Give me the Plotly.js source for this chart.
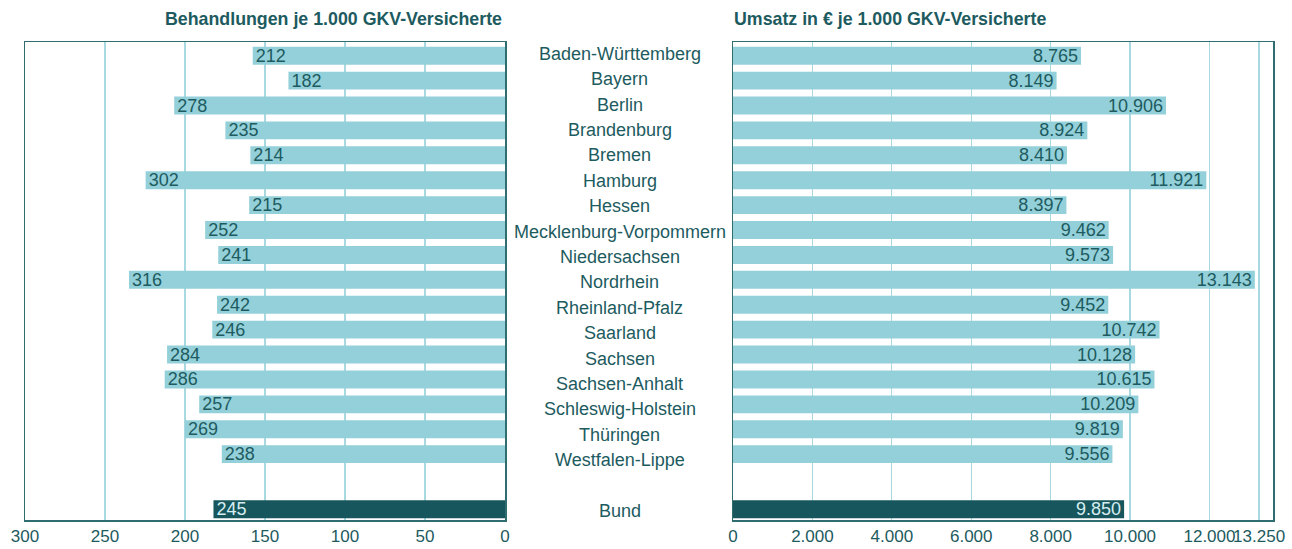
<!DOCTYPE html>
<html>
<head>
<meta charset="utf-8">
<script src="https://cdn.plot.ly/plotly-3.0.1.min.js"></script>
<style>html,body{margin:0;padding:0;background:#fff;}#chart{width:1292px;height:549px;}</style>
</head>
<body>
<div id="chart"></div>
<script>
// ---- data ----
const states = ["Baden-Württemberg","Bayern","Berlin","Brandenburg","Bremen","Hamburg","Hessen",
  "Mecklenburg-Vorpommern","Niedersachsen","Nordrhein","Rheinland-Pfalz","Saarland","Sachsen",
  "Sachsen-Anhalt","Schleswig-Holstein","Thüringen","Westfalen-Lippe"];
const treatments = [212,182,278,235,214,302,215,252,241,316,242,246,284,286,257,269,238];
const revenue = [8765,8149,10906,8924,8410,11921,8397,9462,9573,13143,9452,10742,10128,10615,10209,9819,9556];
const totalLabel = "Bund";
const totalTreatments = 245;
const totalRevenue = 9850;
const leftTickText = ["300","250","200","150","100","50","0"];
const rightTickVals = [0,2000,4000,6000,8000,10000,12000,13250];
const leftTitle = "Behandlungen je 1.000 GKV-Versicherte";
const rightTitle = "Umsatz in € je 1.000 GKV-Versicherte";

// ---- styling / layout ----
const light = "#94d0d9", dark = "#17565c", ink = "#1d5b60", grid = "#a9d9e0", frame = "#2f6d70";
const font = "Liberation Sans, Arial, sans-serif";
const fs = 18;
const leftMax = 403.4;   // bar scale of the left panel in the reference
const rightMax = 13600;
const yState = states.map((_, i) => i);
const yTotal = states.length - 1 + 2.21;
const yRange = [yTotal + 0.434, -0.538];
const labelTotal = states.length + 1;
const labelRange = [18.42, -0.398];

const leftTickVals = leftTickText.map((_, i) => leftMax * (leftTickText.length - 1 - i) / (leftTickText.length - 1));

const common = {type: "bar", orientation: "h", width: 0.72, textposition: "inside",
  insidetextanchor: "end", constraintext: "none", cliponaxis: false, hoverinfo: "skip"};

const traces = [
  Object.assign({}, common, {x: treatments, y: yState, xaxis: "x", yaxis: "y",
    marker: {color: light}, texttemplate: "%{x}", textfont: {color: ink, size: fs, family: font}}),
  Object.assign({}, common, {x: [totalTreatments], y: [yTotal], xaxis: "x", yaxis: "y",
    marker: {color: dark}, texttemplate: "%{x}", textfont: {color: "#d6eef1", size: fs, family: font}}),
  Object.assign({}, common, {x: revenue, y: yState, xaxis: "x2", yaxis: "y2",
    marker: {color: light}, texttemplate: "%{x:,.0f}", textfont: {color: ink, size: fs, family: font}}),
  Object.assign({}, common, {x: [totalRevenue], y: [yTotal], xaxis: "x2", yaxis: "y2",
    marker: {color: dark}, texttemplate: "%{x:,.0f}", textfont: {color: "#d6eef1", size: fs, family: font}})
];

const annotations = states.concat([totalLabel]).map((s, i) => ({
  text: s, xref: "paper", yref: "y3", x: 619.5 / 1292, y: i < states.length ? i : labelTotal,
  showarrow: false, xanchor: "center", yanchor: "middle", yshift: -1.5,
  font: {family: font, size: fs, color: ink}
}));
annotations.push({text: "<b>" + leftTitle + "</b>", xref: "paper", yref: "paper",
  x: 504 / 1292, y: 1 - 19 / 549, xanchor: "right", yanchor: "middle", showarrow: false,
  font: {family: font, size: 17.8, color: ink}});
annotations.push({text: "<b>" + rightTitle + "</b>", xref: "paper", yref: "paper",
  x: 732 / 1292, y: 1 - 19 / 549, xanchor: "left", yanchor: "middle", showarrow: false,
  font: {family: font, size: 17.8, color: ink}});

const axisBase = {showline: true, linecolor: frame, linewidth: 1.5, mirror: true, zeroline: false,
  showgrid: true, gridcolor: grid, gridwidth: 1.2, ticks: "", fixedrange: true, tickangle: 0,
  tickfont: {family: font, size: 17, color: ink}};

const yDomain = [(549 - 520) / 549, (549 - 42.3) / 549];

const layout = {
  width: 1292, height: 549, margin: {l: 0, r: 0, t: 0, b: 0},
  paper_bgcolor: "#fff", plot_bgcolor: "#fff", showlegend: false, separators: ",.",
  xaxis: Object.assign({}, axisBase, {domain: [25 / 1292, 505 / 1292], range: [leftMax, 0],
    tickmode: "array", tickvals: leftTickVals, ticktext: leftTickText, anchor: "y"}),
  yaxis: {domain: yDomain, range: yRange, showticklabels: false, showgrid: false, zeroline: false,
    showline: true, linecolor: frame, linewidth: 1.5, mirror: true, anchor: "x", fixedrange: true},
  xaxis2: Object.assign({}, axisBase, {domain: [733 / 1292, 1273 / 1292], range: [0, rightMax],
    tickmode: "array", tickvals: rightTickVals, tickformat: ",d", anchor: "y2"}),
  yaxis2: {domain: yDomain, range: yRange, showticklabels: false, showgrid: false, zeroline: false,
    showline: true, linecolor: frame, linewidth: 1.5, mirror: true, anchor: "x2", fixedrange: true},
  yaxis3: {domain: yDomain, range: labelRange, overlaying: "y", anchor: "x", visible: false,
    showgrid: false, zeroline: false, fixedrange: true},
  annotations: annotations
};

Plotly.newPlot("chart", traces, layout, {displayModeBar: false, staticPlot: true});
</script>
</body>
</html>
